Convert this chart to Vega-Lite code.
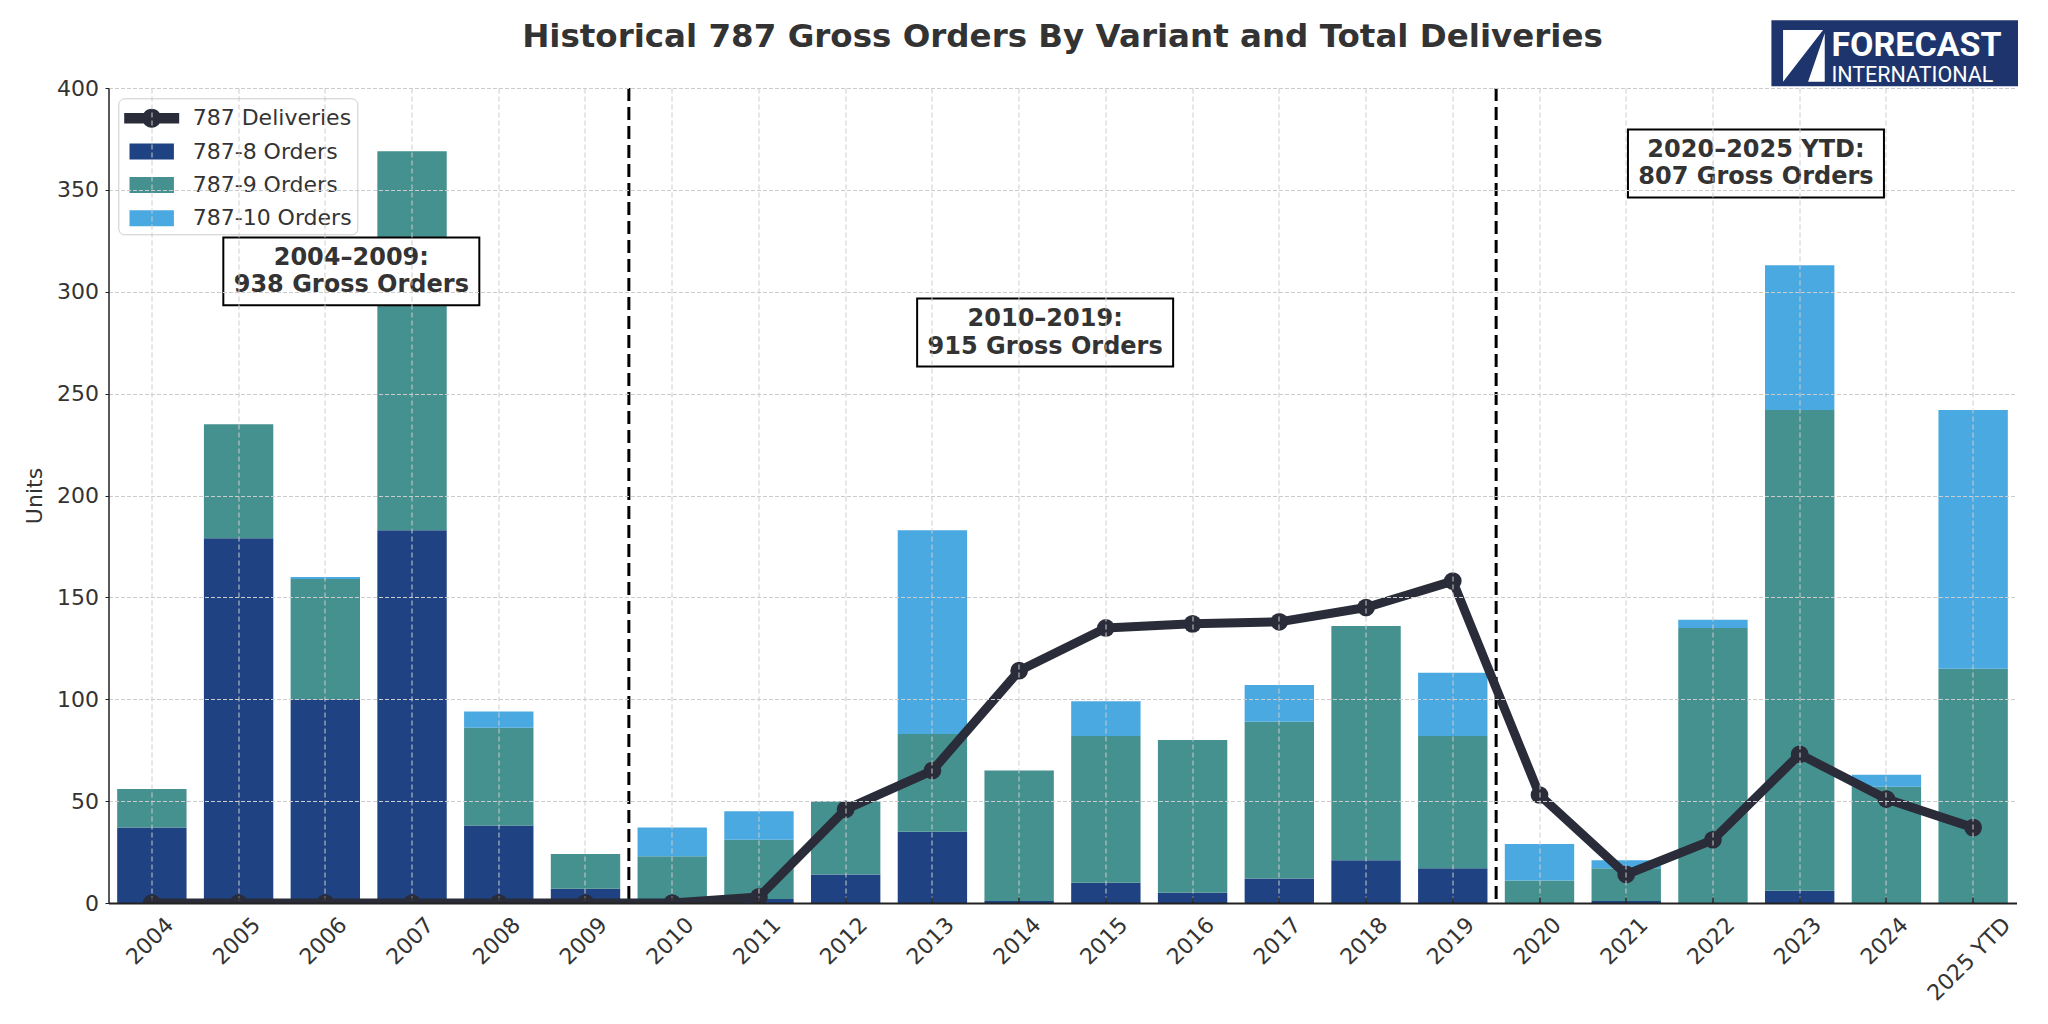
{
  "$schema": "https://vega.github.io/schema/vega-lite/v6.json",
  "width": 1908,
  "height": 815,
  "autosize": {"type": "none"},
  "padding": {"left": 108.5, "top": 88, "right": 31.5, "bottom": 121},
  "background": "white",
  "config": {
    "font": "DejaVu Sans",
    "view": {"stroke": null}
  },
  "title": {
    "text": "Historical 787 Gross Orders By Variant and Total Deliveries",
    "font": "DejaVu Sans",
    "fontSize": 32.5,
    "fontWeight": "bold",
    "color": "#333333",
    "anchor": "middle",
    "offset": -33
  },
  "datasets": {
    "orders": [
      {"year": "2004", "variant": "787-8 Orders", "orders": 37},
      {"year": "2004", "variant": "787-9 Orders", "orders": 19},
      {"year": "2004", "variant": "787-10 Orders", "orders": 0},
      {"year": "2005", "variant": "787-8 Orders", "orders": 179},
      {"year": "2005", "variant": "787-9 Orders", "orders": 56},
      {"year": "2005", "variant": "787-10 Orders", "orders": 0},
      {"year": "2006", "variant": "787-8 Orders", "orders": 100},
      {"year": "2006", "variant": "787-9 Orders", "orders": 59},
      {"year": "2006", "variant": "787-10 Orders", "orders": 1},
      {"year": "2007", "variant": "787-8 Orders", "orders": 183},
      {"year": "2007", "variant": "787-9 Orders", "orders": 186},
      {"year": "2007", "variant": "787-10 Orders", "orders": 0},
      {"year": "2008", "variant": "787-8 Orders", "orders": 38},
      {"year": "2008", "variant": "787-9 Orders", "orders": 48},
      {"year": "2008", "variant": "787-10 Orders", "orders": 8},
      {"year": "2009", "variant": "787-8 Orders", "orders": 7},
      {"year": "2009", "variant": "787-9 Orders", "orders": 17},
      {"year": "2009", "variant": "787-10 Orders", "orders": 0},
      {"year": "2010", "variant": "787-8 Orders", "orders": 0},
      {"year": "2010", "variant": "787-9 Orders", "orders": 23},
      {"year": "2010", "variant": "787-10 Orders", "orders": 14},
      {"year": "2011", "variant": "787-8 Orders", "orders": 2},
      {"year": "2011", "variant": "787-9 Orders", "orders": 29},
      {"year": "2011", "variant": "787-10 Orders", "orders": 14},
      {"year": "2012", "variant": "787-8 Orders", "orders": 14},
      {"year": "2012", "variant": "787-9 Orders", "orders": 36},
      {"year": "2012", "variant": "787-10 Orders", "orders": 0},
      {"year": "2013", "variant": "787-8 Orders", "orders": 35},
      {"year": "2013", "variant": "787-9 Orders", "orders": 48},
      {"year": "2013", "variant": "787-10 Orders", "orders": 100},
      {"year": "2014", "variant": "787-8 Orders", "orders": 1},
      {"year": "2014", "variant": "787-9 Orders", "orders": 64},
      {"year": "2014", "variant": "787-10 Orders", "orders": 0},
      {"year": "2015", "variant": "787-8 Orders", "orders": 10},
      {"year": "2015", "variant": "787-9 Orders", "orders": 72},
      {"year": "2015", "variant": "787-10 Orders", "orders": 17},
      {"year": "2016", "variant": "787-8 Orders", "orders": 5},
      {"year": "2016", "variant": "787-9 Orders", "orders": 75},
      {"year": "2016", "variant": "787-10 Orders", "orders": 0},
      {"year": "2017", "variant": "787-8 Orders", "orders": 12},
      {"year": "2017", "variant": "787-9 Orders", "orders": 77},
      {"year": "2017", "variant": "787-10 Orders", "orders": 18},
      {"year": "2018", "variant": "787-8 Orders", "orders": 21},
      {"year": "2018", "variant": "787-9 Orders", "orders": 115},
      {"year": "2018", "variant": "787-10 Orders", "orders": 0},
      {"year": "2019", "variant": "787-8 Orders", "orders": 17},
      {"year": "2019", "variant": "787-9 Orders", "orders": 65},
      {"year": "2019", "variant": "787-10 Orders", "orders": 31},
      {"year": "2020", "variant": "787-8 Orders", "orders": 0},
      {"year": "2020", "variant": "787-9 Orders", "orders": 11},
      {"year": "2020", "variant": "787-10 Orders", "orders": 18},
      {"year": "2021", "variant": "787-8 Orders", "orders": 1},
      {"year": "2021", "variant": "787-9 Orders", "orders": 16},
      {"year": "2021", "variant": "787-10 Orders", "orders": 4},
      {"year": "2022", "variant": "787-8 Orders", "orders": 0},
      {"year": "2022", "variant": "787-9 Orders", "orders": 135},
      {"year": "2022", "variant": "787-10 Orders", "orders": 4},
      {"year": "2023", "variant": "787-8 Orders", "orders": 6},
      {"year": "2023", "variant": "787-9 Orders", "orders": 236},
      {"year": "2023", "variant": "787-10 Orders", "orders": 71},
      {"year": "2024", "variant": "787-8 Orders", "orders": 0},
      {"year": "2024", "variant": "787-9 Orders", "orders": 57},
      {"year": "2024", "variant": "787-10 Orders", "orders": 6},
      {"year": "2025 YTD", "variant": "787-8 Orders", "orders": 0},
      {"year": "2025 YTD", "variant": "787-9 Orders", "orders": 115},
      {"year": "2025 YTD", "variant": "787-10 Orders", "orders": 127}
    ],
    "deliveries": [
      {"year": "2004", "deliveries": 0},
      {"year": "2005", "deliveries": 0},
      {"year": "2006", "deliveries": 0},
      {"year": "2007", "deliveries": 0},
      {"year": "2008", "deliveries": 0},
      {"year": "2009", "deliveries": 0},
      {"year": "2010", "deliveries": 0},
      {"year": "2011", "deliveries": 3},
      {"year": "2012", "deliveries": 46},
      {"year": "2013", "deliveries": 65},
      {"year": "2014", "deliveries": 114},
      {"year": "2015", "deliveries": 135},
      {"year": "2016", "deliveries": 137},
      {"year": "2017", "deliveries": 138},
      {"year": "2018", "deliveries": 145},
      {"year": "2019", "deliveries": 158},
      {"year": "2020", "deliveries": 53},
      {"year": "2021", "deliveries": 14},
      {"year": "2022", "deliveries": 31},
      {"year": "2023", "deliveries": 73},
      {"year": "2024", "deliveries": 51},
      {"year": "2025 YTD", "deliveries": 37}
    ],
    "dividers": [
      {"year": "2009"},
      {"year": "2019"}
    ],
    "notes": [
      {"year": "2006", "value": 310, "label": "2004–2009:\n938 Gross Orders"},
      {"year": "2014", "value": 280, "label": "2010–2019:\n915 Gross Orders"},
      {"year": "2022", "value": 363, "label": "2020–2025 YTD:\n807 Gross Orders"}
    ],
    "logo": [
      {"name": "FORECAST", "sub": "INTERNATIONAL"}
    ]
  },
  "layer": [
    {
      "data": {"name": "orders"},
      "transform": [
        {"calculate": "indexof(['787-8 Orders', '787-9 Orders', '787-10 Orders'], datum.variant)", "as": "stack_rank"}
      ],
      "mark": {"type": "bar"},
      "encoding": {
        "x": {
          "field": "year",
          "type": "ordinal",
          "title": null,
          "scale": {
            "domain": ["2004", "2005", "2006", "2007", "2008", "2009", "2010", "2011", "2012", "2013", "2014", "2015", "2016", "2017", "2018", "2019", "2020", "2021", "2022", "2023", "2024", "2025 YTD"],
            "paddingInner": 0.2,
            "paddingOuter": 0.1
          },
          "axis": {
            "labelAngle": -45,
            "labelAlign": "right",
            "labelBaseline": "middle",
            "labelFont": "DejaVu Sans",
            "labelFontSize": 22,
            "labelColor": "#333333",
            "labelOffset": {"condition": {"test": "datum.value === '2025 YTD'", "value": 34}, "value": 18},
            "labelPadding": 24,
            "tickSize": -6,
            "tickColor": "#222222",
            "tickWidth": 1.5,
            "domainColor": "#222222",
            "domainWidth": 2,
            "grid": true,
            "gridColor": "#cccccc",
            "gridDash": [5, 3],
            "gridWidth": 1,
            "zindex": 1
          }
        },
        "y": {
          "field": "orders",
          "type": "quantitative",
          "stack": "zero",
          "title": "Units",
          "scale": {"domain": [0, 400], "nice": false},
          "axis": {
            "values": [0, 50, 100, 150, 200, 250, 300, 350, 400],
            "titleFont": "DejaVu Sans",
            "titleFontSize": 22,
            "titleFontWeight": "normal",
            "titleColor": "#333333",
            "titlePadding": 10,
            "labelFont": "DejaVu Sans",
            "labelFontSize": 22,
            "labelColor": "#333333",
            "labelPadding": 6.5,
            "tickSize": 3.5,
            "tickColor": "#222222",
            "domainColor": "#222222",
            "domainWidth": 1.5,
            "grid": true,
            "gridColor": "#cccccc",
            "gridDash": [4, 2],
            "gridWidth": 1,
            "zindex": 1
          }
        },
        "order": {"field": "stack_rank", "type": "quantitative", "sort": "ascending"},
        "color": {
          "field": "variant",
          "type": "nominal",
          "scale": {
            "domain": ["787 Deliveries", "787-8 Orders", "787-9 Orders", "787-10 Orders"],
            "range": ["#2a2c39", "#1f4283", "#45918f", "#4ba9e1"]
          },
          "legend": {
            "title": null,
            "orient": "none",
            "legendX": 9.8,
            "legendY": 10.3,
            "labelFont": "DejaVu Sans",
            "labelFontSize": 22,
            "labelColor": "#333333",
            "labelLimit": 0,
            "symbolSize": 900,
            "symbolStrokeWidth": 0,
            "rowPadding": 7.3,
            "padding": 5,
            "symbolOffset": 13.4,
            "labelOffset": 26,
            "fillColor": "white",
            "strokeColor": "#cccccc",
            "cornerRadius": 6,
            "encode": {
              "symbols": {
                "update": {
                  "shape": {"signal": "datum.value === '787 Deliveries' ? 'M-1.833,-0.353L1.833,-0.353L1.833,0.353L-1.833,0.353Z M-0.633,0A0.633,0.633,0,1,1,0.633,0A0.633,0.633,0,1,1,-0.633,0Z' : 'M-1.48,-0.533L1.48,-0.533L1.48,0.533L-1.48,0.533Z'"},
                  "fill": {"scale": "color", "field": "value"},
                  "strokeWidth": {"value": 0},
                  "opacity": {"value": 1}
                }
              }
            }
          }
        }
      }
    },
    {
      "data": {"name": "dividers"},
      "mark": {"type": "rule", "color": "black", "strokeWidth": 3, "strokeDash": [13, 6]},
      "encoding": {
        "x": {"field": "year", "type": "ordinal", "bandPosition": 1.125, "title": null}
      }
    },
    {
      "data": {"name": "deliveries"},
      "mark": {"type": "line", "color": "#2a2c39", "strokeWidth": 9, "strokeJoin": "round", "clip": true},
      "encoding": {
        "x": {"field": "year", "type": "ordinal", "title": null},
        "y": {"field": "deliveries", "type": "quantitative", "title": "Units"}
      }
    },
    {
      "data": {"name": "deliveries"},
      "mark": {"type": "point", "filled": true, "size": 314, "color": "#2a2c39", "opacity": 1, "clip": true},
      "encoding": {
        "x": {"field": "year", "type": "ordinal", "title": null},
        "y": {"field": "deliveries", "type": "quantitative", "title": "Units"}
      }
    },
    {
      "data": {"name": "notes"},
      "mark": {
        "type": "point",
        "shape": "M-1,-0.2656L1,-0.2656L1,0.2656L-1,0.2656Z",
        "size": 65536,
        "filled": true,
        "fill": "white",
        "stroke": "black",
        "strokeWidth": 2,
        "opacity": 1,
        "xOffset": {"expr": "datum.year === '2022' ? 43 : 26"}
      },
      "encoding": {
        "x": {"field": "year", "type": "ordinal", "title": null},
        "y": {"field": "value", "type": "quantitative", "title": "Units"}
      }
    },
    {
      "data": {"name": "notes"},
      "mark": {
        "type": "text",
        "font": "DejaVu Sans",
        "fontSize": 24,
        "fontWeight": "bold",
        "color": "#333333",
        "lineBreak": "\n",
        "lineHeight": 27.5,
        "align": "center",
        "baseline": "middle",
        "dy": -13.5,
        "xOffset": {"expr": "datum.year === '2022' ? 43 : 26"}
      },
      "encoding": {
        "x": {"field": "year", "type": "ordinal", "title": null},
        "y": {"field": "value", "type": "quantitative", "title": "Units"},
        "text": {"field": "label"}
      }
    },
    {
      "data": {"name": "logo"},
      "mark": {
        "type": "point",
        "shape": "M-1,-0.2676L1,-0.2676L1,0.2676L-1,0.2676Z",
        "size": 60813,
        "filled": true,
        "color": "#1e346c",
        "opacity": 1,
        "xOffset": 8.3
      },
      "encoding": {
        "x": {"datum": "2024"},
        "y": {"datum": 417, "type": "quantitative"}
      }
    },
    {
      "data": {"name": "logo"},
      "mark": {
        "type": "point",
        "shape": "M-0.806,-1L0.742,-1L-0.806,1Z M0.806,-0.871L0.806,1L0.161,1Z",
        "size": 2673,
        "filled": true,
        "color": "white",
        "opacity": 1,
        "xOffset": -82.5
      },
      "encoding": {
        "x": {"datum": "2024"},
        "y": {"datum": 415.8, "type": "quantitative"}
      }
    },
    {
      "data": {"name": "logo"},
      "mark": {
        "type": "text",
        "font": "Roboto",
        "fontSize": 34,
        "fontWeight": "bold",
        "color": "white",
        "align": "left",
        "baseline": "alphabetic",
        "xOffset": -55
      },
      "encoding": {
        "x": {"datum": "2024"},
        "y": {"datum": 415.6, "type": "quantitative"},
        "text": {"field": "name"}
      }
    },
    {
      "data": {"name": "logo"},
      "mark": {
        "type": "text",
        "font": "Roboto",
        "fontSize": 21.5,
        "fontWeight": "normal",
        "color": "white",
        "align": "left",
        "baseline": "alphabetic",
        "xOffset": -55
      },
      "encoding": {
        "x": {"datum": "2024"},
        "y": {"datum": 403, "type": "quantitative"},
        "text": {"field": "sub"}
      }
    }
  ]
}
